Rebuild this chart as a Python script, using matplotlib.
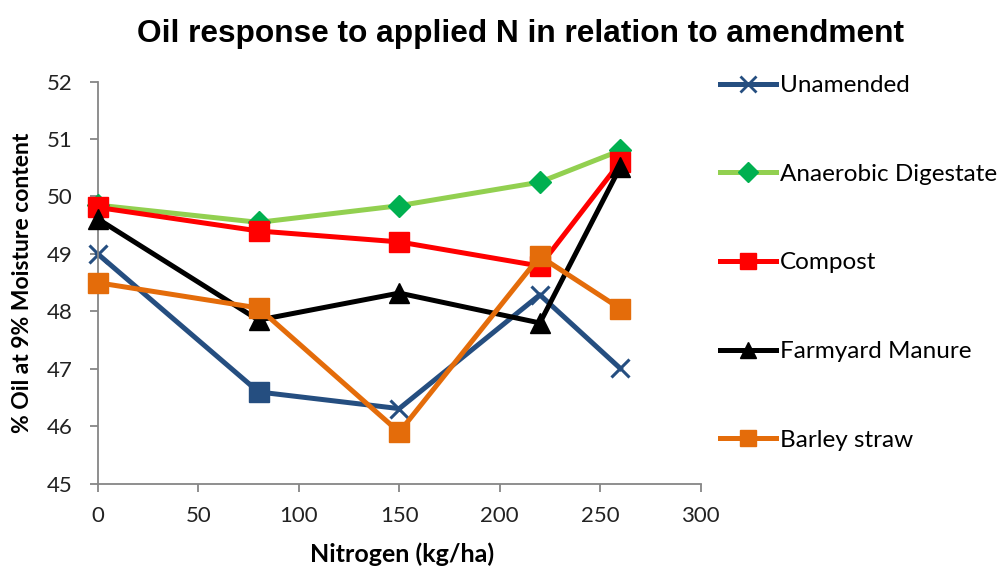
import matplotlib.pyplot as plt
from matplotlib.lines import Line2D

nitrogen = [0, 80, 150, 220, 260]
unamended = [49.0, 46.6, 46.31, 48.29, 47.01]
anaerobic_digestate = [49.85, 49.55, 49.84, 50.25, 50.8]
compost = [49.81, 49.4, 49.21, 48.79, 50.6]
farmyard_manure = [49.61, 47.85, 48.32, 47.8, 50.51]
barley_straw = [48.5, 48.06, 45.9, 48.96, 48.05]

labels = ["Unamended", "Anaerobic Digestate", "Compost", "Farmyard Manure", "Barley straw"]

plt.rcParams['font.family'] = ['Lato', 'DejaVu Sans']

fig = plt.figure(figsize=(9.98, 5.7), dpi=100)
ax = fig.add_axes([0.098, 0.151, 0.604, 0.706])

navy = '#254E80'
lw = 3.6
ms = 14

# Unamended: cross markers, with the 80 kg/ha point shown as a square
ax.plot(nitrogen, unamended, color=navy, lw=lw, marker='x', ms=13, mew=2.2,
        markevery=[0, 2, 3, 4], zorder=2)
ax.plot(nitrogen[1:2], unamended[1:2], ls='none', marker='s', ms=ms,
        color=navy, zorder=2)
ax.plot(nitrogen, anaerobic_digestate, color='#92D050', lw=lw, marker='D',
        ms=11, mfc='#00B050', mec='#00B050', zorder=3)
ax.plot(nitrogen, compost, color='#FF0000', lw=lw, marker='s', ms=ms, zorder=4)
ax.plot(nitrogen, farmyard_manure, color='black', lw=lw, marker='^', ms=ms, zorder=5)
ax.plot(nitrogen, barley_straw, color='#E46C0A', lw=lw, marker='s', ms=ms, zorder=6)

ax.set_xlim(0, 300)
ax.set_ylim(45, 52)
ax.set_xticks(range(0, 301, 50))
ax.set_yticks(range(45, 53))
ax.spines['top'].set_visible(False)
ax.spines['right'].set_visible(False)
for s in ('left', 'bottom'):
    ax.spines[s].set_color('#868686')
    ax.spines[s].set_linewidth(1.3)
ax.tick_params(direction='out', length=6, width=1.3, color='#868686',
               labelsize=16, labelcolor='#222222')
ax.tick_params(axis='x', pad=10)
ax.tick_params(axis='y', pad=12)
for l in ax.lines:
    l.set_clip_on(False)

fig.text(0.403, 0.014, 'Nitrogen (kg/ha)', ha='center', va='baseline',
         fontsize=18, fontweight='bold')
fig.text(0.023, 0.504, '% Oil at 9% Moisture content', ha='center', va='center',
         rotation=90, fontsize=16.5, fontweight='bold')
fig.text(0.522, 0.927, 'Oil response to applied N in relation to amendment',
         ha='center', va='baseline', fontsize=22.8, fontweight='bold',
         family=['Liberation Sans', 'DejaVu Sans'])

handles = [
    Line2D([], [], color=navy, lw=lw, marker='x', ms=11, mew=2),
    Line2D([], [], color='#92D050', lw=lw, marker='D', ms=10, mfc='#00B050', mec='#00B050'),
    Line2D([], [], color='#FF0000', lw=lw, marker='s', ms=12),
    Line2D([], [], color='black', lw=lw, marker='^', ms=12),
    Line2D([], [], color='#E46C0A', lw=lw, marker='s', ms=12),
]
fig.legend(handles, labels, loc='upper left', bbox_to_anchor=(0.712, 0.885),
           frameon=False, fontsize=17.5, handlelength=2.3, handletextpad=0.15,
           labelspacing=2.78, borderaxespad=0)

fig.savefig('out.png', dpi=100)
